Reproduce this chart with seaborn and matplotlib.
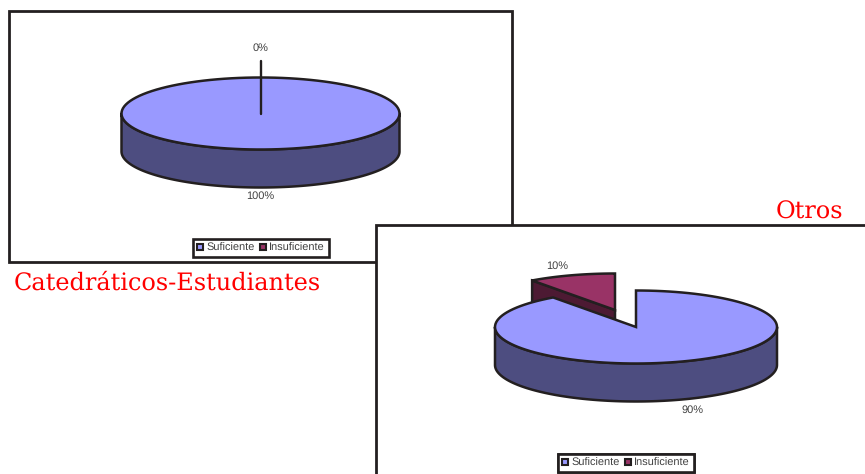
import numpy as np
import matplotlib
matplotlib.use("Agg")
import matplotlib.pyplot as plt
from matplotlib.patches import Polygon, Rectangle, Patch
from matplotlib import font_manager
import seaborn as sns

# --- Datos ---
categorias = ["Suficiente", "Insuficiente"]
valores_catedraticos = [100, 0]
valores_otros = [90, 10]

sns.set_theme(style="white")
plt.rcParams["font.family"] = ["DejaVu Sans"]
plt.rcParams["text.hinting"] = "no_hinting"
plt.rcParams["text.hinting_factor"] = 1

# "Liberation Sans" por nombre puede caer en la variante Narrow
rutas = [f for f in font_manager.findSystemFonts() if f.endswith("LiberationSans-Regular.ttf")]
fuente = font_manager.FontProperties(fname=rutas[0]) if rutas else font_manager.FontProperties(family="Roboto")

colores = sns.color_palette(["#9999FF", "#993366"])
laterales = sns.color_palette(["#4D4D80", "#4D1A33"])
BORDE = "#231F20"
GRIS = "#404040"
W, H = 865, 474


def arco(cx, cy, rx, ry, a0, a1, n=120):
    # angulos en grados, horario desde el norte
    a = np.radians(np.linspace(a0, a1, n))
    return np.column_stack([cx + rx * np.sin(a), cy - ry * np.cos(a)])


def dibuja_pie(ax, cx, cy, rx, ry, prof, valores, offsets):
    angulos = np.concatenate([[0], np.cumsum(valores) * 3.6])
    # primero las porciones separadas, la principal queda encima
    for i in reversed(range(len(valores))):
        a0, a1 = angulos[i], angulos[i + 1]
        dx, dy = offsets[i]
        x0, y0 = cx + dx, cy + dy
        if valores[i] == 0:
            p = arco(x0, y0, rx, ry, a0, a0, 2)[0]
            ax.plot([cx, round(p[0], 3)], [cy, p[1]], color=BORDE, lw=1.7, zorder=6)
            continue
        # pared radial visible
        if np.sin(np.radians(a0)) < -1e-6:
            p = arco(x0, y0, rx, ry, a0, a0, 2)[0]
            ax.add_patch(Polygon([[x0, y0], p, [p[0], p[1] + prof], [x0, y0 + prof]],
                                 fc=laterales[i], ec=BORDE, lw=1.8, zorder=2))
        # pared exterior frontal
        f0, f1 = max(a0, 90), min(a1, 270)
        if f1 > f0:
            borde = arco(x0, y0, rx, ry, f0, f1)
            bajo = borde[::-1] + [0, prof]
            ax.add_patch(Polygon(np.vstack([borde, bajo]), fc=laterales[i], ec=BORDE,
                                 lw=1.8, joinstyle="round", zorder=2 + (i == 0)))
        # cara superior
        cara = arco(x0, y0, rx, ry, a0, a1)
        if a1 - a0 < 360:
            cara = np.vstack([[x0, y0], cara])
        ax.add_patch(Polygon(cara, fc=colores[i], ec=BORDE, lw=1.8,
                             joinstyle="miter", zorder=2 + (i == 0)))


def leyenda(ax, x, y):
    handles = [Patch(fc=c, ec=BORDE, lw=1.5) for c in colores]
    prop = fuente.copy()
    prop.set_size(7.6)
    leg = ax.legend(handles, categorias, ncol=2, loc="center",
                    bbox_to_anchor=(x, y), bbox_transform=ax.transData,
                    prop=prop, fancybox=False, frameon=True, edgecolor=BORDE,
                    framealpha=1, handlelength=0.6, handleheight=0.6,
                    handletextpad=0.3, columnspacing=0.5, borderpad=0.38,
                    borderaxespad=0, labelcolor=GRIS)
    leg.get_frame().set_linewidth(1.9)
    leg.set_zorder(7)
    ax.add_artist(leg)


def etiqueta(ax, x, y, valor):
    ax.text(x, y, f"{valor}%", ha="center", va="center", fontproperties=fuente,
            fontsize=7.6, color=GRIS, zorder=6)


fig = plt.figure(figsize=(W / 100, H / 100), dpi=100)
ax = fig.add_axes([0, 0, 1, 1])
ax.set_xlim(0, W)
ax.set_ylim(H, 0)
ax.axis("off")

# Catedraticos-Estudiantes
ax.add_patch(Rectangle((9, 10.5), 503, 251, fc="white", ec=BORDE, lw=2.0, zorder=1))
dibuja_pie(ax, 260.5, 113.5, 139, 36, 38, valores_catedraticos, [(0, 0), (0, -17)])
etiqueta(ax, 260.5, 48.5, valores_catedraticos[1])
etiqueta(ax, 260.5, 196, valores_catedraticos[0])
leyenda(ax, 261, 248)

# Otros
ax.add_patch(Rectangle((375.5, 225), 600, 400, fc="white", ec=BORDE, lw=2.0, zorder=1))
dibuja_pie(ax, 636, 327, 141, 36.5, 38, valores_otros, [(0, 0), (-21, -17)])
etiqueta(ax, 557, 266, valores_otros[1])
etiqueta(ax, 692.5, 410, valores_otros[0])
leyenda(ax, 626, 463)

# Titulos
ax.text(14, 290, "Catedráticos-Estudiantes", color="red", fontsize=17.55,
        family="DejaVu Serif", ha="left", va="baseline", zorder=8)
ax.text(776, 219, "Otros", color="red", fontsize=17.55,
        family="DejaVu Serif", ha="left", va="baseline", zorder=8)

fig.savefig("out.png", dpi=100)
